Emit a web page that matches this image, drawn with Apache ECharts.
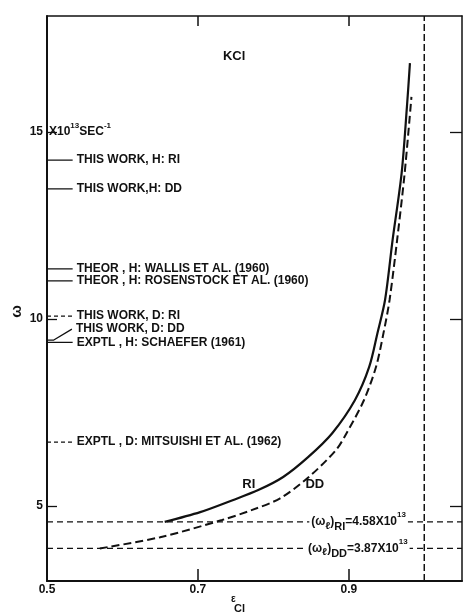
<!DOCTYPE html>
<html><head><meta charset="utf-8">
<script src="https://cdn.jsdelivr.net/npm/echarts@6/dist/echarts.min.js"></script>
<style>html,body{margin:0;padding:0;background:#fff}#c{width:463px;height:616px}</style>
</head><body><div id="c"></div>
<script>
// ---- data ----
const X_TICK_VALUES = [0.5, 0.7, 0.9];
const X_TICK_LABELS = ['0.5', '0.7', '0.9'];
const Y_TICK_VALUES = [5, 10, 15];
const Y_TICK_LABELS = ['5', '10', '15'];

// omega vs epsilon_Cl, Rigid-ion (RI) model, solid curve
const RI_EPS = [0.656, 0.703, 0.746, 0.780, 0.813, 0.846, 0.878, 0.908, 0.927, 0.938, 0.948, 0.958, 0.970, 0.977, 0.981];
const RI_OMEGA = [4.58, 4.84, 5.16, 5.43, 5.78, 6.31, 6.95, 7.83, 8.72, 9.63, 10.51, 12.11, 13.90, 15.67, 16.84];
// Deformation-dipole (DD) model, dashed curve
const DD_EPS = [0.570, 0.650, 0.732, 0.772, 0.809, 0.847, 0.883, 0.897, 0.920, 0.936, 0.946, 0.954, 0.964, 0.974, 0.983];
const DD_OMEGA = [3.87, 4.17, 4.63, 4.90, 5.21, 5.78, 6.50, 6.95, 7.83, 8.72, 9.63, 10.51, 12.11, 13.90, 15.94];

// limiting frequencies
const OMEGA_L_RI = 4.58;
const OMEGA_L_DD = 3.87;
const EPS_LIMIT = 1.0;

// reference frequencies marked on the left axis
const REF_NAMES = [
  'THIS WORK, H: RI',
  'THIS WORK,H: DD',
  'THEOR , H: WALLIS ET AL. (1960)',
  'THEOR , H: ROSENSTOCK ET AL. (1960)',
  'THIS WORK, D: RI',
  'THIS WORK, D: DD',
  'EXPTL , H: SCHAEFER (1961)',
  'EXPTL , D: MITSUISHI ET AL. (1962)'
];
const REF_OMEGA = [14.25, 13.48, 11.34, 11.02, 10.08, 9.44, 9.38, 6.71];
const REF_DASHED = [false, false, false, false, true, false, false, true];

// ---- layout / style constants ----
const X_MIN = 0.5, X_MAX = 1.05, Y_MIN = 3, Y_MAX = 18.1;
const MARK_LEN = 0.034;
const FONT = 'Liberation Sans, Arial, sans-serif';
const INK = '#111';

const chart = echarts.init(document.getElementById('c'), null, {renderer: 'canvas'});

function pairs(xs, ys) { return xs.map((x, i) => [x, ys[i]]); }

const series = [];

series.push({
  type: 'line', name: 'RI', data: pairs(RI_EPS, RI_OMEGA), smooth: 0.3,
  symbol: 'none', lineStyle: {color: INK, width: 2.2}, z: 5
});
series.push({
  type: 'line', name: 'DD', data: pairs(DD_EPS, DD_OMEGA), smooth: 0.3,
  symbol: 'none', lineStyle: {color: INK, width: 2, type: [8, 4]}, z: 5
});

// limiting horizontal lines
[OMEGA_L_RI, OMEGA_L_DD].forEach(v => {
  series.push({
    type: 'line', data: [[X_MIN, v], [X_MAX, v]], symbol: 'none',
    lineStyle: {color: INK, width: 1.3, type: [6, 4]}, z: 3, silent: true
  });
});
// vertical asymptote
series.push({
  type: 'line', data: [[EPS_LIMIT, Y_MIN], [EPS_LIMIT, Y_MAX]], symbol: 'none',
  lineStyle: {color: INK, width: 1.5, type: [7, 3]}, z: 3, silent: true
});

// left markers
REF_NAMES.forEach((name, i) => {
  const v = REF_OMEGA[i];
  let data;
  if (i === 5) {
    data = [[X_MIN, v], [X_MIN + 0.009, v], [X_MIN + 0.033, v + 0.29]];
  } else {
    data = [[X_MIN, v], [X_MIN + MARK_LEN, v]];
  }
  series.push({
    type: 'line', name: name, data: data, symbol: 'none', z: 4,
    lineStyle: {color: INK, width: 1.3, type: REF_DASHED[i] ? [4, 3] : 'solid'},
    endLabel: {show: true, formatter: name, distance: 4, color: INK,
      fontFamily: FONT, fontSize: 12, fontWeight: 'bold'}
  });
});

// text annotations positioned in data space
const baseLbl = {color: INK, fontFamily: FONT, fontWeight: 'bold', opacity: 1};
function annot(pt, text, extra) {
  series.push({
    type: 'scatter', data: [pt], symbolSize: 0, silent: true, z: 8,
    itemStyle: {opacity: 1, color: INK},
    label: Object.assign({show: true, position: 'inside', formatter: text}, baseLbl, extra)
  });
}
annot([0.748, 17.03], 'KCl', {fontSize: 13});
annot([0.7675, 5.59], 'RI', {fontSize: 13});
annot([0.855, 5.59], 'DD', {fontSize: 13});
annot([X_MIN, 15], 'X10{sp|13}SEC{sp|-1}', {position: 'right', distance: 2, fontSize: 12, lineHeight: 20,
  rich: {sp: {fontSize: 8, lineHeight: 8, verticalAlign: 'top', fontFamily: FONT, fontWeight: 'bold', color: INK}}});
const omegaRich = {
  l: {fontSize: 10, lineHeight: 10, verticalAlign: 'bottom', fontFamily: FONT, fontWeight: 'bold', color: INK, padding: [0, 0, 2, 0]},
  sb: {fontSize: 11, lineHeight: 10, verticalAlign: 'bottom', fontFamily: FONT, fontWeight: 'bold', color: INK},
  sp: {fontSize: 8, lineHeight: 8, verticalAlign: 'top', fontFamily: FONT, fontWeight: 'bold', color: INK}
};
annot([0.913, OMEGA_L_RI], '(ω{l|ℓ}){sb|RI}=' + OMEGA_L_RI.toFixed(2) + 'X10{sp|13}',
  {fontSize: 12, lineHeight: 22, backgroundColor: '#fff', padding: [0, 2], rich: omegaRich});
annot([0.912, OMEGA_L_DD], '(ω{l|ℓ}){sb|DD}=' + OMEGA_L_DD.toFixed(2) + 'X10{sp|13}',
  {fontSize: 12, lineHeight: 22, backgroundColor: '#fff', padding: [0, 2], rich: omegaRich});

const axisTxt = {color: INK, fontFamily: FONT, fontSize: 12, fontWeight: 'bold'};

chart.setOption({
  animation: false,
  backgroundColor: '#fff',
  grid: {left: 47, top: 16, width: 415, height: 565, containLabel: false},
  xAxis: [
    {type: 'value', min: X_MIN, max: X_MAX, position: 'bottom',
      axisLine: {lineStyle: {color: INK, width: 2}},
      axisTick: {inside: true, length: 12, customValues: X_TICK_VALUES.slice(1), lineStyle: {color: INK, width: 1.5}},
      axisLabel: Object.assign({customValues: X_TICK_VALUES, margin: 3,
        formatter: v => X_TICK_LABELS[X_TICK_VALUES.indexOf(Math.round(v * 10) / 10)] || ''}, axisTxt),
      splitLine: {show: false}},
    {type: 'value', min: X_MIN, max: X_MAX, position: 'top',
      axisLine: {lineStyle: {color: INK, width: 1.5}},
      axisTick: {inside: true, length: 10, customValues: X_TICK_VALUES.slice(1), lineStyle: {color: INK, width: 1.5}},
      axisLabel: {show: false}, splitLine: {show: false}}
  ],
  yAxis: [
    {type: 'value', min: Y_MIN, max: Y_MAX, position: 'left',
      axisLine: {lineStyle: {color: INK, width: 2}},
      axisTick: {inside: true, length: 10, customValues: Y_TICK_VALUES, lineStyle: {color: INK, width: 1.3}},
      axisLabel: Object.assign({customValues: Y_TICK_VALUES, margin: 4,
        formatter: v => Y_TICK_LABELS[Y_TICK_VALUES.indexOf(Math.round(v))] || ''}, axisTxt),
      splitLine: {show: false}},
    {type: 'value', min: Y_MIN, max: Y_MAX, position: 'right',
      axisLine: {lineStyle: {color: INK, width: 1.5}},
      axisTick: {inside: true, length: 12, customValues: Y_TICK_VALUES, lineStyle: {color: INK, width: 1.3}},
      axisLabel: {show: false}, splitLine: {show: false}}
  ],
  graphic: [
    {type: 'text', left: 9, top: 305, rotation: Math.PI / 2, originX: 6, originY: 7,
      style: {text: 'ω', fontSize: 15, fontWeight: 'bold', fontFamily: FONT, fill: INK}},
    {type: 'text', left: 231, top: 594, style: {text: 'ε', fontSize: 10, fontWeight: 'bold', fontFamily: FONT, fill: INK}},
    {type: 'text', left: 234, top: 603, style: {text: 'Cl', fontSize: 11, fontWeight: 'bold', fontFamily: FONT, fill: INK}}
  ],
  series: series
});
</script></body></html>
